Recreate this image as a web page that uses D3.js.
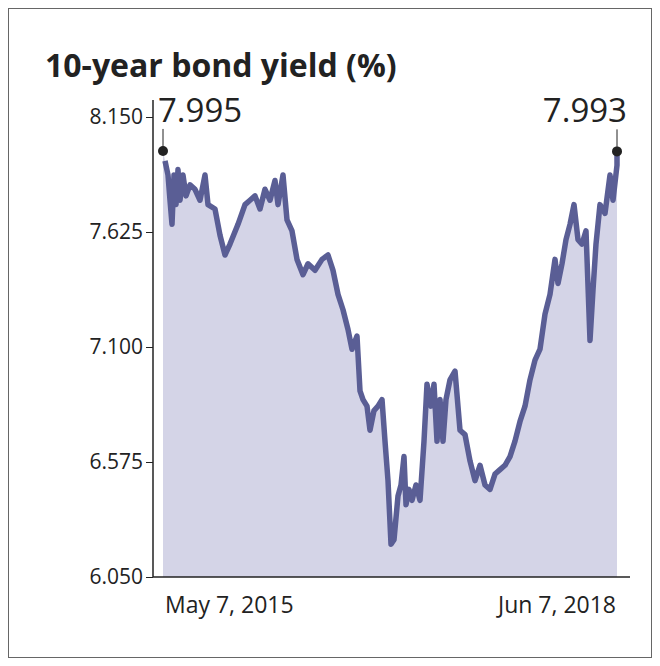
<!DOCTYPE html><html><head><meta charset="utf-8"><script src="https://cdn.jsdelivr.net/npm/d3@7"></script>
<style>body{margin:0;background:#fff}</style></head><body><svg id="c" width="660" height="666"></svg><script>
const title="10-year bond yield (%)";
const yTicks=[6.050,6.575,7.100,7.625,8.150];
const xLabels=["May 7, 2015","Jun 7, 2018"];
const values=[7.995,7.95,7.885,7.77,7.66,7.885,7.75,7.91,7.77,7.885,7.79,7.84,7.82,7.77,7.885,7.75,7.73,7.61,7.52,7.57,7.66,7.75,7.77,7.79,7.73,7.82,7.77,7.86,7.75,7.885,7.68,7.63,7.50,7.43,7.48,7.45,7.50,7.52,7.45,7.34,7.27,7.18,7.09,7.15,6.90,6.86,6.83,6.72,6.81,6.83,6.86,6.67,6.49,6.20,6.22,6.42,6.47,6.60,6.38,6.45,6.40,6.47,6.40,6.67,6.93,6.83,6.93,6.67,6.86,6.67,6.86,6.95,6.99,6.72,6.70,6.58,6.49,6.56,6.47,6.45,6.52,6.54,6.56,6.60,6.67,6.76,6.83,6.95,7.04,7.09,7.25,7.34,7.50,7.39,7.48,7.59,7.66,7.75,7.59,7.57,7.63,7.13,7.36,7.57,7.75,7.71,7.885,7.77,7.93,7.993];
const xPos=[163,165,168,170,172,174,176,178,180,183,186,190,195,200,205,208,215,220,225,230,238,245,250,255,260,265,270,275,278,283,287,292,297,303,308,315,322,328,333,338,343,348,352,357,360,363,367,370,374,378,382,385,388,391,394,398,401,404,406,409,412,416,420,424,427,431,434,437,440,443,446,450,455,460,465,470,475,480,485,490,495,500,505,510,515,520,525,530,535,540,545,550,555,558,562,566,570,574,578,582,586,590,593,596,600,605,610,613,617,617];
const F="'Open Sans', sans-serif";
const svg=d3.select("#c");
svg.append("rect").attr("x",8.5).attr("y",8.5).attr("width",643).attr("height",649).attr("fill","none").attr("stroke","#666");
svg.append("text").attr("x",45).attr("y",77).attr("font-family",F).attr("font-weight","bold").attr("font-size",32).attr("fill","#222").text(title);
const idx=values.map((v,i)=>i);
const x=d3.scaleLinear().domain(d3.extent(xPos)).range([163,617]);
const y=d3.scaleLinear().domain([6.050,8.150]).range([577,117]);
const px=i=>x(xPos[i]);
svg.append("path").datum(idx).attr("fill","#d4d4e7").attr("d",d3.area().x(px).y0(577).y1(i=>y(values[i])));
svg.append("path").datum(idx.slice(1)).attr("fill","none").attr("stroke","#5a5e95").attr("stroke-width",5.5).attr("stroke-linejoin","round").attr("d",d3.line().x(px).y(i=>y(values[i])));
const ya=svg.append("g").attr("transform","translate(153,0)").call(d3.axisLeft(y).tickValues(yTicks).tickFormat(d3.format(".3f")).tickSize(7).tickPadding(3));
ya.select(".domain").attr("d","M0,100V577").attr("stroke","#222").attr("stroke-width",1.5);
ya.selectAll("text").attr("font-family",F).attr("font-size",21).attr("fill","#222");
ya.selectAll("line").attr("stroke","#222");
svg.append("line").attr("x1",153).attr("x2",630).attr("y1",577).attr("y2",577).attr("stroke","#222").attr("stroke-width",1.5);
[0,values.length-1].forEach((i,k)=>{
 const cx=px(i),cy=y(values[i]);
 svg.append("line").attr("x1",cx).attr("x2",cx).attr("y1",cy).attr("y2",cy-22).attr("stroke","#222");
 svg.append("circle").attr("cx",cx).attr("cy",cy).attr("r",5).attr("fill","#222");
 svg.append("text").attr("x",k?cx+10:cx-5).attr("y",122).attr("text-anchor",k?"end":"start").attr("font-family",F).attr("font-size",33).attr("fill","#222").text(d3.format(".3f")(values[i]));
});
svg.append("text").attr("x",165).attr("y",613).attr("font-family",F).attr("font-size",23).attr("fill","#222").text(xLabels[0]);
svg.append("text").attr("x",616).attr("y",613).attr("text-anchor","end").attr("font-family",F).attr("font-size",23).attr("fill","#222").text(xLabels[1]);
</script></body></html>
